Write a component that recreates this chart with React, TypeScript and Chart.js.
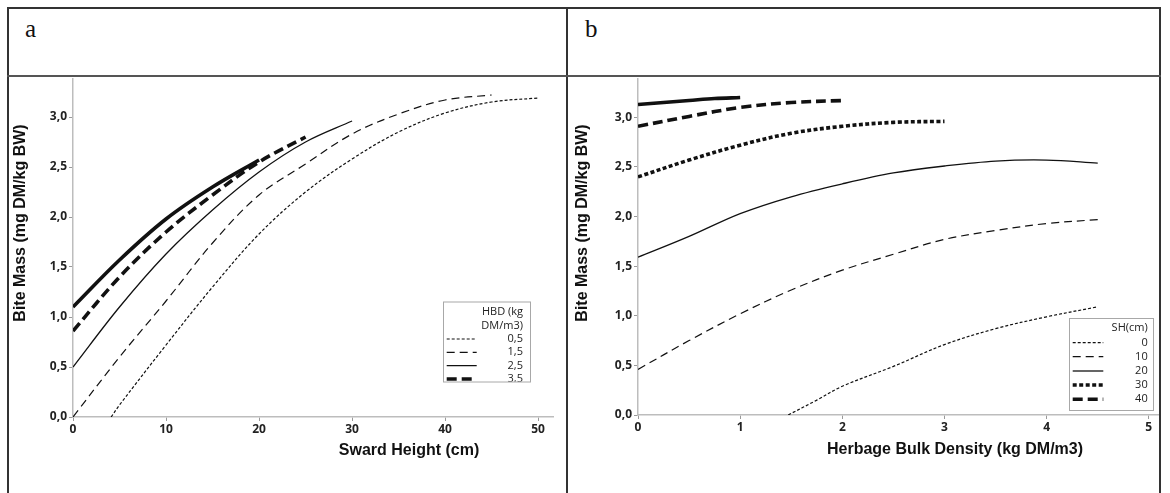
import React, { useEffect, useRef } from "react";
import { Chart, registerables } from "chart.js";
Chart.register(...registerables);

// ---------- Panel a: Bite mass vs Sward Height, per HBD (kg DM/m3) ----------
const aTicksX = [0, 10, 20, 30, 40, 50];
const aTicksY = [0, 0.5, 1, 1.5, 2, 2.5, 3];

const aHbd05X = [4.1, 5, 10, 15, 20, 25, 30, 35, 40, 45, 50];
const aHbd05Y = [0, 0.12, 0.72, 1.3, 1.83, 2.25, 2.58, 2.85, 3.04, 3.15, 3.19];

const aHbd15X = [0, 5, 10, 15, 20, 25, 30, 35, 40, 45];
const aHbd15Y = [0, 0.6, 1.16, 1.74, 2.22, 2.53, 2.83, 3.03, 3.17, 3.22];

const aHbd25X = [0, 5, 10, 15, 20, 25, 30];
const aHbd25Y = [0.5, 1.1, 1.63, 2.07, 2.45, 2.75, 2.96];

const aHbd35X = [0, 5, 10, 15, 20, 25];
const aHbd35Y = [0.86, 1.4, 1.85, 2.22, 2.55, 2.8];

const aHbd45X = [0, 5, 10, 15, 20];
const aHbd45Y = [1.1, 1.57, 1.98, 2.3, 2.57];

// ---------- Panel b: Bite mass vs Herbage Bulk Density, per SH (cm) ----------
const bTicksX = [0, 1, 2, 3, 4, 5];
const bTicksY = [0, 0.5, 1, 1.5, 2, 2.5, 3];

const bSh0X = [1.47, 1.75, 2, 2.5, 3, 3.5, 4, 4.5];
const bSh0Y = [0, 0.15, 0.29, 0.49, 0.71, 0.87, 0.99, 1.09];

const bSh10X = [0, 0.5, 1, 1.5, 2, 2.5, 3, 3.5, 4, 4.5];
const bSh10Y = [0.46, 0.75, 1.02, 1.26, 1.46, 1.62, 1.77, 1.86, 1.93, 1.97];

const bSh20X = [0, 0.5, 1, 1.5, 2, 2.5, 3, 3.5, 4, 4.5];
const bSh20Y = [1.59, 1.8, 2.03, 2.2, 2.33, 2.44, 2.51, 2.56, 2.57, 2.54];

const bSh30X = [0, 0.5, 1, 1.5, 2, 2.5, 3];
const bSh30Y = [2.4, 2.57, 2.72, 2.84, 2.91, 2.95, 2.96];

const bSh40X = [0, 0.5, 1, 1.5, 2];
const bSh40Y = [2.91, 3.01, 3.1, 3.15, 3.17];

const bSh50X = [0, 0.25, 0.5, 0.75, 1];
const bSh50Y = [3.13, 3.15, 3.17, 3.19, 3.2];

// ---------- styles ----------
const lineStyles: Record<string, { borderWidth: number; borderDash: number[] }> = {
  dot: { borderWidth: 1.2, borderDash: [3, 2] },
  dash: { borderWidth: 1.2, borderDash: [8, 5] },
  solid: { borderWidth: 1.3, borderDash: [] },
  thickDot: { borderWidth: 3.6, borderDash: [4, 2.5] },
  thickDash: { borderWidth: 3.6, borderDash: [10, 5] },
  thickSolid: { borderWidth: 3.6, borderDash: [] },
};

const TICK_FONT = { family: '"Open Sans", "DejaVu Sans", sans-serif', size: 12, weight: "bold" as const };
const TITLE_FONT = 'bold 16px "Liberation Sans", Arial, sans-serif';
const LEGEND_FONT = '11px "Open Sans", "DejaVu Sans", sans-serif';

function makeDataset(label: string, xs: number[], ys: number[], style: string) {
  const s = lineStyles[style];
  return {
    label,
    data: xs.map((x, i) => ({ x, y: ys[i] })),
    borderColor: "#111",
    backgroundColor: "#111",
    borderWidth: s.borderWidth,
    borderDash: s.borderDash,
    pointRadius: 0,
    tension: 0.35,
    fill: false,
  };
}

const commaFmt = (v: number) => v.toFixed(1).replace(".", ",");

const axisTitlePlugin = {
  id: "axisTitles",
  afterDraw(chart: any, _args: any, opts: any) {
    const ctx = chart.ctx;
    ctx.save();
    ctx.font = TITLE_FONT;
    ctx.fillStyle = "#111";
    ctx.textAlign = "center";
    ctx.textBaseline = "middle";
    ctx.fillText(opts.xText, opts.xCx, opts.xCy);
    ctx.translate(opts.yCx, opts.yCy);
    ctx.rotate(-Math.PI / 2);
    ctx.fillText(opts.yText, 0, 0);
    ctx.restore();
  },
};

const boxLegendPlugin = {
  id: "boxLegend",
  afterDraw(chart: any, _args: any, opts: any) {
    const ctx = chart.ctx;
    const [bx, by, bw, bh] = opts.box;
    ctx.save();
    ctx.fillStyle = "#fff";
    ctx.fillRect(bx, by, bw, bh);
    ctx.strokeStyle = "#a8a8a8";
    ctx.lineWidth = 1;
    ctx.strokeRect(bx + 0.5, by + 0.5, bw, bh);
    ctx.beginPath();
    ctx.rect(bx + 1, by + 1, bw - 1, bh - 1);
    ctx.clip();
    ctx.font = LEGEND_FONT;
    ctx.fillStyle = "#222";
    ctx.textAlign = "right";
    ctx.textBaseline = "middle";
    const titles: string[] = opts.titleLines;
    titles.forEach((t, i) => ctx.fillText(t, opts.labelX, opts.titleYs[i]));
    const ds = chart.data.datasets;
    const rows: number[] = opts.rowYs;
    rows.forEach((ry, i) => {
      const d = ds[i];
      ctx.save();
      ctx.strokeStyle = "#111";
      ctx.lineWidth = d.borderWidth;
      ctx.setLineDash(d.borderDash);
      ctx.beginPath();
      ctx.moveTo(opts.sampleX0, ry);
      ctx.lineTo(opts.sampleX1, ry);
      ctx.stroke();
      ctx.restore();
      ctx.fillText(d.label, opts.labelX, ry);
    });
    ctx.restore();
  },
};

function buildScales(o: {
  xMax: number; yMax: number; xTicks: number[]; yTicks: number[]; yWidth: number; xHeight: number;
}) {
  const grid = { drawOnChartArea: false, drawTicks: true, tickLength: 4, color: "#9a9a9a", lineWidth: 1 };
  const border = { display: true, color: "#bdbdbd", width: 1.5 };
  return {
    x: {
      type: "linear" as const,
      min: 0,
      max: o.xMax,
      grid,
      border,
      afterBuildTicks: (s: any) => { s.ticks = o.xTicks.map((v) => ({ value: v })); },
      afterFit: (s: any) => { s.height = o.xHeight; s.paddingLeft = 0; s.paddingRight = 0; },
      ticks: { font: TICK_FONT, color: "#222", padding: 1, maxRotation: 0, autoSkip: false, callback: (v: any) => String(v) },
    },
    y: {
      type: "linear" as const,
      min: 0,
      max: o.yMax,
      grid,
      border,
      afterBuildTicks: (s: any) => { s.ticks = o.yTicks.map((v) => ({ value: v })); },
      afterFit: (s: any) => { s.width = o.yWidth; s.paddingTop = 0; s.paddingBottom = 0; },
      ticks: { font: TICK_FONT, color: "#222", padding: 2, autoSkip: false, callback: (v: any) => commaFmt(Number(v)) },
    },
  };
}

function ChartCanvas({ left, top, width, height, config }: any) {
  const ref = useRef<HTMLCanvasElement>(null);
  useEffect(() => {
    const chart = new Chart(ref.current!, config());
    return () => chart.destroy();
  }, []);
  return (
    <div style={{ position: "absolute", left, top, width, height }}>
      <canvas ref={ref} width={width} height={height} style={{ width, height, display: "block" }} />
    </div>
  );
}

const configA = () => ({
  type: "line" as const,
  data: {
    datasets: [
      makeDataset("0,5", aHbd05X, aHbd05Y, "dot"),
      makeDataset("1,5", aHbd15X, aHbd15Y, "dash"),
      makeDataset("2,5", aHbd25X, aHbd25Y, "solid"),
      makeDataset("3,5", aHbd35X, aHbd35Y, "thickDash"),
      makeDataset("4,5", aHbd45X, aHbd45Y, "thickSolid"),
    ],
  },
  options: {
    responsive: false,
    animation: false as const,
    devicePixelRatio: 1,
    layout: { padding: { top: 2, right: 13, left: 0, bottom: 0 } },
    scales: buildScales({ xMax: 51.6, yMax: 3.38, xTicks: aTicksX, yTicks: aTicksY, yWidth: 64, xHeight: 76 }),
    plugins: {
      legend: { display: false },
      tooltip: { enabled: false },
      axisTitles: { xText: "Sward Height (cm)", xCx: 400, xCy: 374, yText: "Bite Mass (mg DM/kg BW)", yCx: 12, yCy: 146 },
      boxLegend: {
        box: [434, 224.5, 87, 80],
        titleLines: ["HBD (kg", "DM/m3)"],
        titleYs: [234.7, 248.7],
        rowYs: [262, 275.3, 288.7, 302],
        sampleX0: 437.7,
        sampleX1: 467.7,
        labelX: 514,
      },
    },
  },
  plugins: [axisTitlePlugin, boxLegendPlugin],
});

const configB = () => ({
  type: "line" as const,
  data: {
    datasets: [
      makeDataset("0", bSh0X, bSh0Y, "dot"),
      makeDataset("10", bSh10X, bSh10Y, "dash"),
      makeDataset("20", bSh20X, bSh20Y, "solid"),
      makeDataset("30", bSh30X, bSh30Y, "thickDot"),
      makeDataset("40", bSh40X, bSh40Y, "thickDash"),
      makeDataset("50", bSh50X, bSh50Y, "thickSolid"),
    ],
  },
  options: {
    responsive: false,
    animation: false as const,
    devicePixelRatio: 1,
    layout: { padding: { top: 2, right: 1, left: 0, bottom: 0 } },
    scales: buildScales({ xMax: 5.09, yMax: 3.387, xTicks: bTicksX, yTicks: bTicksY, yWidth: 70, xHeight: 78 }),
    plugins: {
      legend: { display: false },
      tooltip: { enabled: false },
      axisTitles: { xText: "Herbage Bulk Density (kg DM/m3)", xCx: 387, xCy: 373, yText: "Bite Mass (mg DM/kg BW)", yCx: 15, yCy: 146 },
      boxLegend: {
        box: [501, 241, 84, 92],
        titleLines: ["SH(cm)"],
        titleYs: [251.3],
        rowYs: [265.7, 279.7, 294, 308, 322.3],
        sampleX0: 504.7,
        sampleX1: 535.3,
        labelX: 579.7,
      },
    },
  },
  plugins: [axisTitlePlugin, boxLegendPlugin],
});

const line = (l: number, t: number, w: number, h: number, c: string) => (
  <div style={{ position: "absolute", left: l, top: t, width: w, height: h, background: c }} />
);

export default function App() {
  const headerFont: React.CSSProperties = {
    position: "absolute",
    top: 16,
    fontFamily: '"Liberation Serif", "Times New Roman", serif',
    fontSize: 25,
    lineHeight: "25px",
    color: "#111",
  };
  return (
    <div style={{ position: "absolute", left: 0, top: 0, width: 1170, height: 493, background: "#fff", overflow: "hidden" }}>
      <ChartCanvas left={9} top={77} width={557} height={416} config={configA} />
      <ChartCanvas left={568} top={77} width={591} height={416} config={configB} />
      {line(7, 7, 1154, 2, "#333")}
      {line(7, 7, 2, 486, "#333")}
      {line(1159, 7, 2, 486, "#333")}
      {line(566, 7, 2, 486, "#333")}
      {line(7, 75, 1154, 2, "#555")}
      <div style={{ ...headerFont, left: 25 }}>a</div>
      <div style={{ ...headerFont, left: 585 }}>b</div>
    </div>
  );
}
